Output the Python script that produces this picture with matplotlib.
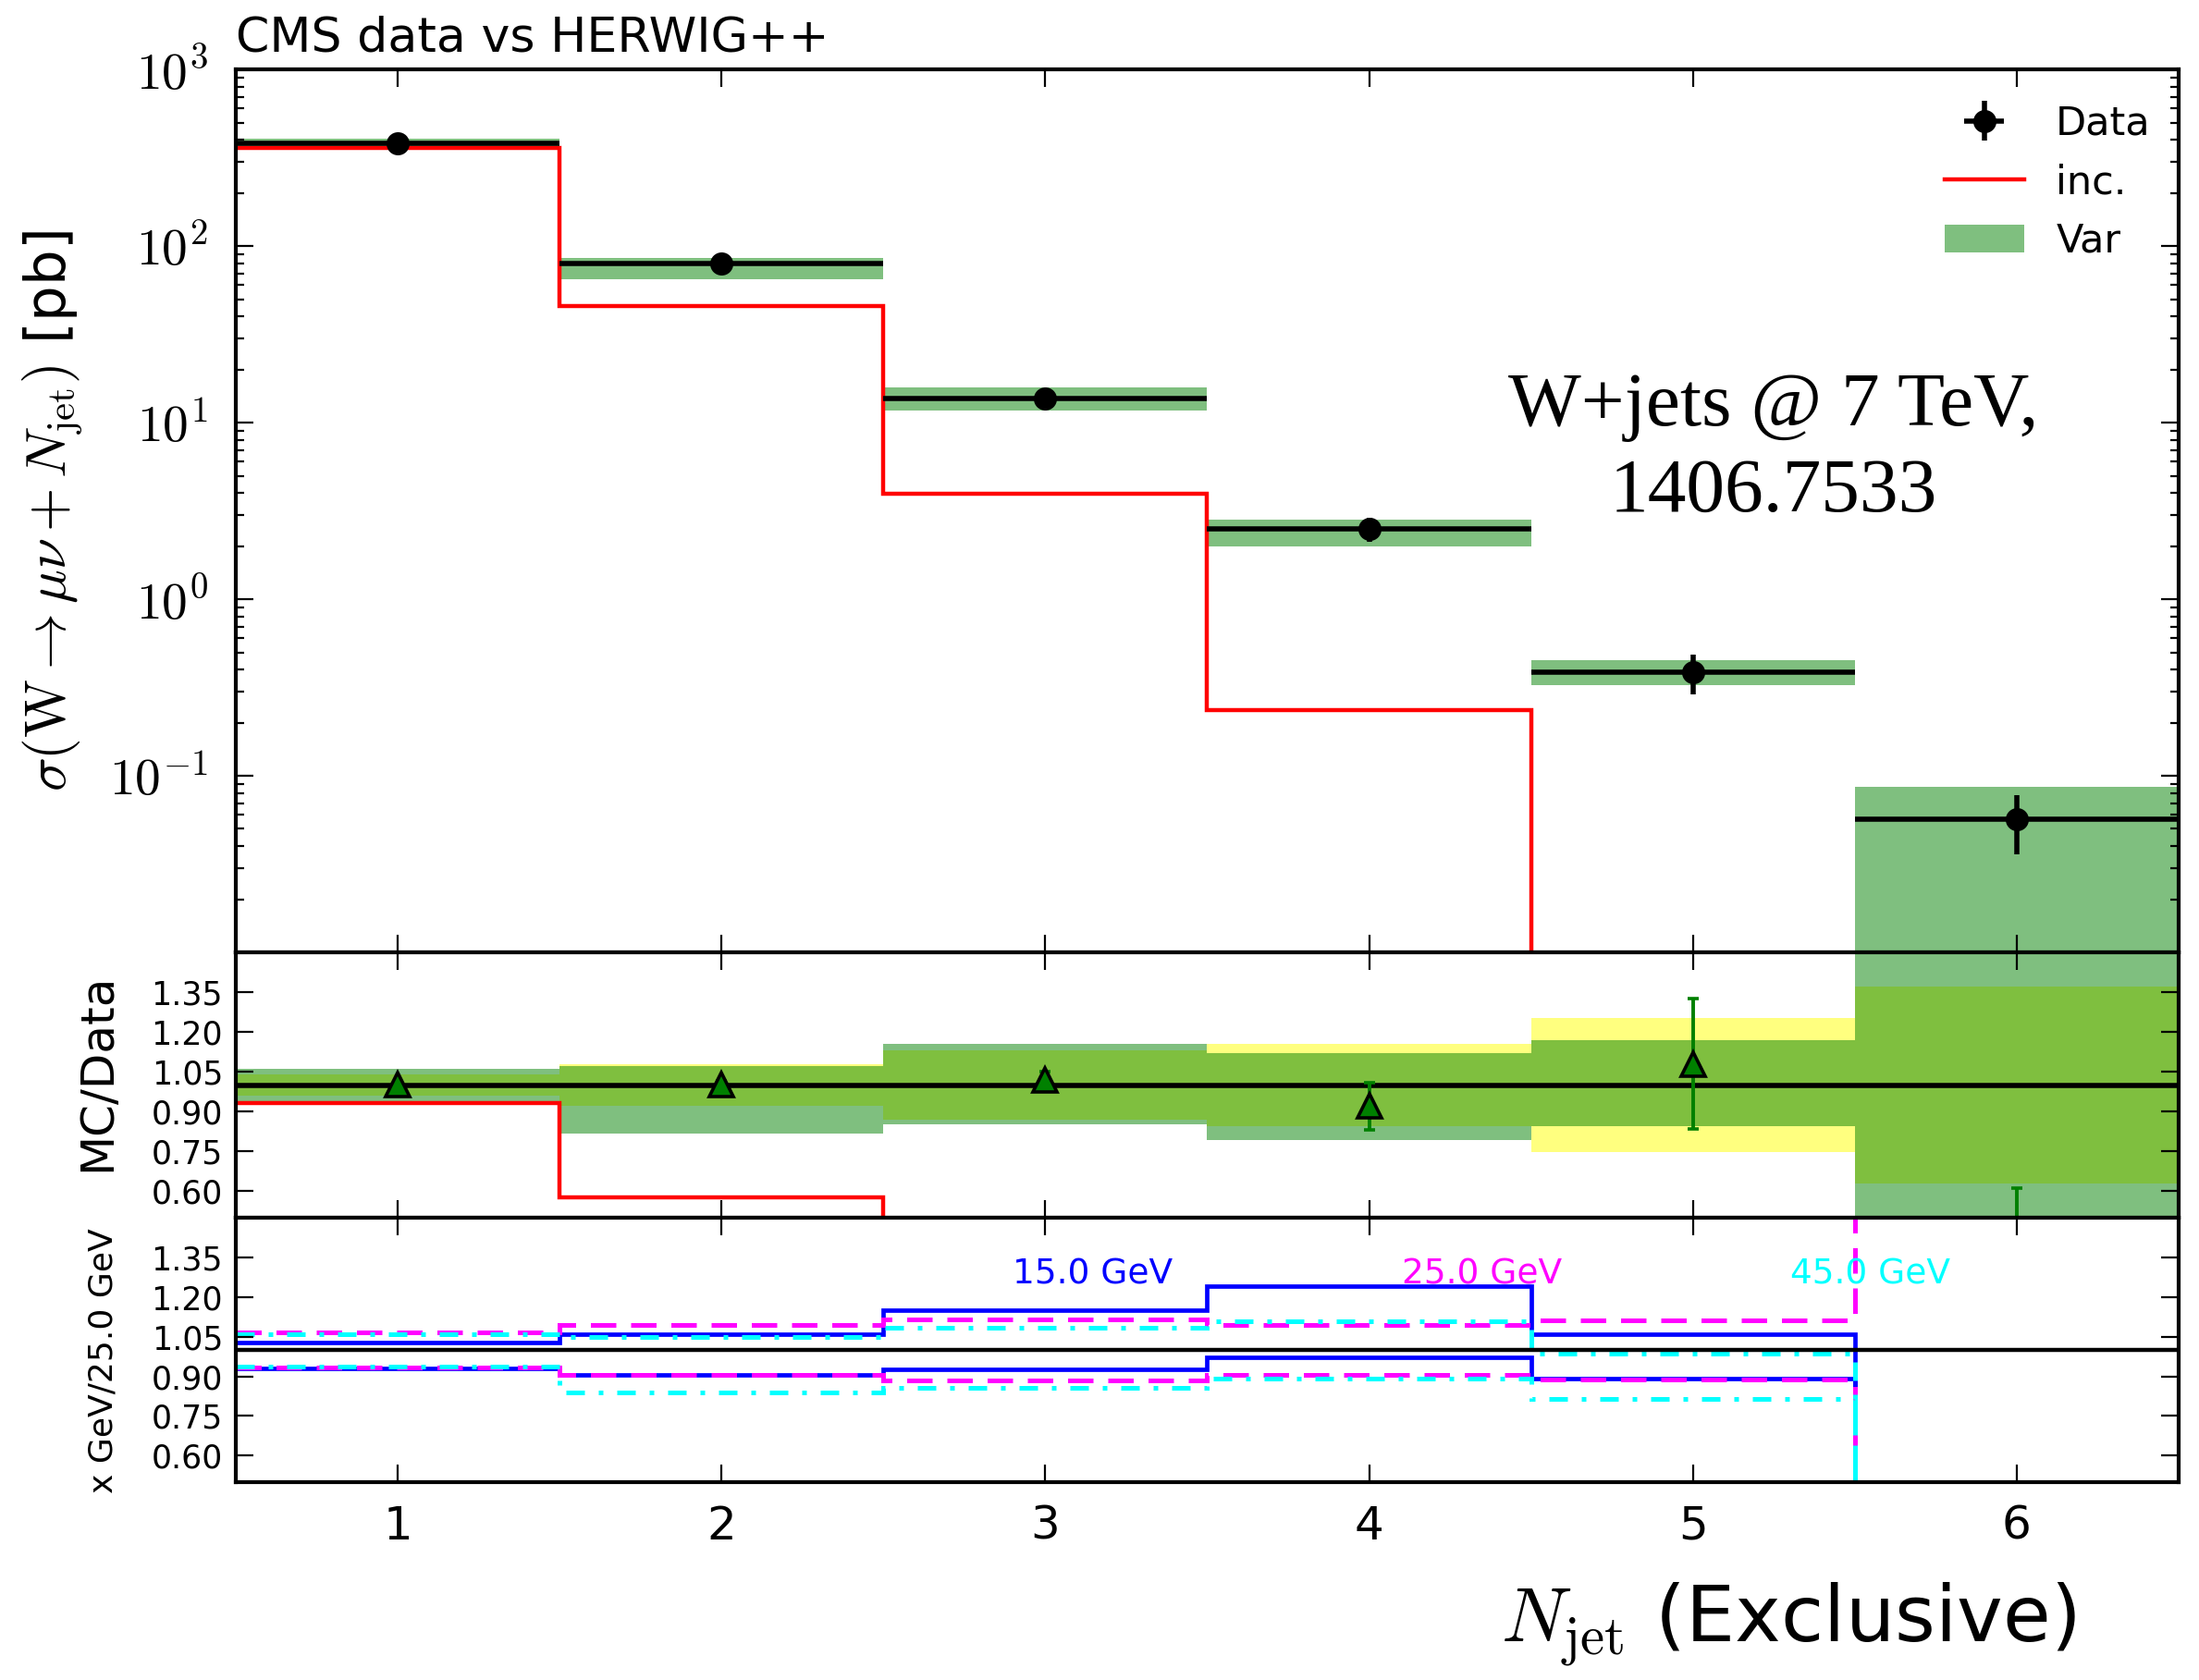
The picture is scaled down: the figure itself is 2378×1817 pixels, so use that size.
import numpy as np
import matplotlib
matplotlib.use("Agg")
import matplotlib.pyplot as plt
from matplotlib.ticker import FixedLocator, FormatStrFormatter, FuncFormatter, LogLocator, NullFormatter

plt.rcParams['font.family'] = ['DejaVu Sans']
plt.rcParams['mathtext.fontset'] = 'cm'

# exclusive jet multiplicity bins
njet = np.array([1, 2, 3, 4, 5, 6])
edges = np.array([0.5, 1.5, 2.5, 3.5, 4.5, 5.5, 6.5])

# CMS data [pb]
data = np.array([383.0, 79.3, 13.7, 2.51, 0.386, 0.0568])
data_err = np.array([16.0, 6.1, 1.77, 0.39, 0.098, 0.021])

# HERWIG++ inclusive prediction [pb]
inc = np.array([357.0, 45.7, 3.93, 0.235, 0.0, 0.0])

# variation envelope [pb]
var_lo = np.array([359.0, 64.8, 11.67, 1.99, 0.326, 0.005])
var_hi = np.array([406.0, 85.0, 15.82, 2.81, 0.451, 0.0861])

# MC/Data central ratio with its uncertainty
mc_ratio = np.array([1.003, 1.002, 1.02, 0.92, 1.08, 0.42])
mc_ratio_err = np.array([0.01, 0.015, 0.03, 0.09, 0.247, 0.19])

# jet pT threshold variations relative to 25 GeV (upper / lower envelopes)
pt15_hi = np.array([1.028, 1.060, 1.151, 1.242, 1.058, 0.0])
pt15_lo = np.array([0.930, 0.907, 0.928, 0.973, 0.890, 0.0])
pt25_hi = np.array([1.065, 1.093, 1.116, 1.093, 1.113, 3.0])
pt25_lo = np.array([0.933, 0.907, 0.884, 0.907, 0.887, 0.0])
pt45_hi = np.array([1.058, 1.049, 1.084, 1.110, 0.985, 0.0])
pt45_lo = np.array([0.938, 0.840, 0.857, 0.890, 0.816, 0.0])
pt_labels = ["15.0 GeV", "25.0 GeV", "45.0 GeV"]
pt_label_x = [2.9, 4.1, 5.3]

ratio_ticks = [0.60, 0.75, 0.90, 1.05, 1.20, 1.35]


def style_axis(ax):
    for sp in ax.spines.values():
        sp.set_linewidth(1.5)
    ax.tick_params(which='both', direction='in', top=True, right=True)
    ax.tick_params(which='major', length=6.8, width=0.8)
    ax.tick_params(which='minor', length=3.3, width=0.8)
    ax.set_xlim(0.5, 6.5)
    ax.set_xticks(njet)


def pow10(v, pos):
    return r'$10^{%d}$' % int(round(np.log10(v)))


fig = plt.figure(figsize=(2378 / 200, 1817 / 200), dpi=200)
L, W = 0.10723, 0.88352
ax = fig.add_axes([L, 0.43313, W, 0.52559])
ax_r = fig.add_axes([L, 0.27518, W, 0.15795])
ax_v = fig.add_axes([L, 0.11778, W, 0.15740])

# --- main panel ---
style_axis(ax)
ax.set_yscale('log')
ax.set_ylim(1e-2, 1e3)
var_bars = ax.bar(njet, var_hi - var_lo, bottom=var_lo, width=1.0, color='green',
                  alpha=0.5, linewidth=0, label='Var')
inc_line = ax.stairs(inc, edges, baseline=None, color='red', lw=1.6, label='inc.')
data_eb = ax.errorbar(njet, data, xerr=0.5, yerr=data_err, fmt='o', color='black',
                      ms=8, elinewidth=2.0, capsize=0, label='Data')
ax.set_yticks([1e-1, 1e0, 1e1, 1e2, 1e3])
ax.yaxis.set_major_formatter(FuncFormatter(pow10))
ax.yaxis.set_minor_locator(LogLocator(base=10, subs=np.arange(2, 10)))
ax.yaxis.set_minor_formatter(NullFormatter())
ax.tick_params(axis='y', which='major', labelsize=20, pad=11)
ax.tick_params(axis='x', labelbottom=False)
ax.set_ylabel(r'$\sigma(\mathrm{W}\rightarrow\mu\nu+N_{\mathrm{jet}})$ [pb]', fontsize=22)
ax.yaxis.set_label_coords(-0.078, 0.5)
ax.set_title('CMS data vs HERWIG++', loc='left', fontsize=18.8, pad=7)
ax.legend([data_eb, inc_line, var_bars], ['Data', 'inc.', 'Var'], loc='upper right',
          bbox_to_anchor=(1.0, 0.992), frameon=False, fontsize=15.5, handlelength=2.0,
          borderaxespad=0.3)
ax.text(0.7915, 0.5685, 'W+jets @ 7 TeV,\n1406.7533', transform=ax.transAxes,
        ha='center', va='center', fontsize=30, family='Liberation Serif', linespacing=1.3)

# --- MC/Data ratio ---
style_axis(ax_r)
ax_r.set_ylim(0.5, 1.5)
ax_r.bar(njet, 2 * data_err / data, bottom=1 - data_err / data, width=1.0,
         color='yellow', alpha=0.5, linewidth=0)
ax_r.bar(njet, (var_hi - var_lo) / data, bottom=var_lo / data, width=1.0,
         color='green', alpha=0.5, linewidth=0)
ax_r.axhline(1.0, color='black', lw=2.0)
ax_r.stairs(inc / data, edges, baseline=None, color='red', lw=1.6)
ax_r.errorbar(njet, mc_ratio, yerr=mc_ratio_err, fmt='^', color='green', mfc='green',
              mec='black', mew=1.3, ms=9.5, elinewidth=1.4, capsize=2, capthick=1.4)
ax_r.yaxis.set_major_locator(FixedLocator(ratio_ticks))
ax_r.yaxis.set_major_formatter(FormatStrFormatter('%.2f'))
ax_r.tick_params(axis='y', labelsize=12.5, pad=5)
ax_r.tick_params(axis='x', labelbottom=False)
ax_r.set_ylabel('MC/Data', fontsize=18)
ax_r.yaxis.set_label_coords(-0.060, 0.547)

# --- jet pT threshold variations ---
style_axis(ax_v)
ax_v.set_ylim(0.5, 1.5)
ax_v.axhline(1.0, color='black', lw=1.6)
ax_v.stairs(pt15_hi, edges, baseline=None, color='blue', lw=1.7)
ax_v.stairs(pt15_lo, edges, baseline=None, color='blue', lw=1.7)
for hi_lo in (pt25_hi, pt25_lo):
    ax_v.stairs(hi_lo, edges, baseline=None, color='magenta', lw=1.8,
                linestyle=(0, (5.5, 3.2)))
for hi_lo in (pt45_hi, pt45_lo):
    ax_v.stairs(hi_lo, edges, baseline=None, color='cyan', lw=1.8,
                linestyle=(0, (4, 3, 1, 3)))
for lab, xpos, col in zip(pt_labels, pt_label_x, ['blue', 'magenta', 'cyan']):
    ax_v.text(xpos, 1.222, lab, color=col, fontsize=13.5, ha='left', va='bottom')
ax_v.yaxis.set_major_locator(FixedLocator(ratio_ticks))
ax_v.yaxis.set_major_formatter(FormatStrFormatter('%.2f'))
ax_v.tick_params(axis='y', labelsize=12.5, pad=5)
ax_v.tick_params(axis='x', labelsize=18, pad=8.5)
ax_v.set_ylabel('x GeV/25.0 GeV', fontsize=13)
ax_v.yaxis.set_label_coords(-0.060, 0.46)
ax_v.set_xlabel(r'$N_{\rm jet}$ (Exclusive)', fontsize=30.3, ha='right')
ax_v.xaxis.set_label_coords(0.947, -0.372)

fig.savefig('out.png', dpi=200)
